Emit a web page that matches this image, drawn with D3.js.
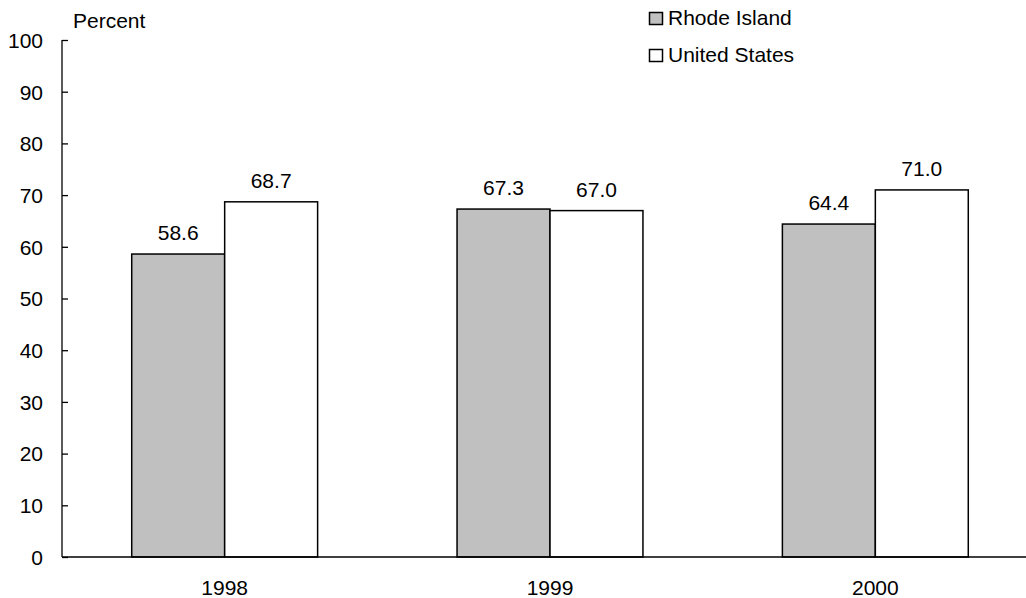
<!DOCTYPE html>
<html><head><meta charset="utf-8">
<script src="https://cdn.jsdelivr.net/npm/d3@7"></script>
<style>body{margin:0;background:#fff}svg{display:block}text{font-family:"Liberation Sans",Arial,sans-serif;fill:#000}</style>
</head><body>
<script>
const years = ["1998","1999","2000"];
const seriesNames = ["Rhode Island","United States"];
const rhodeIsland = [58.6, 67.3, 64.4];
const unitedStates = [68.7, 67.0, 71.0];
const yTicks = [0,10,20,30,40,50,60,70,80,90,100];
const colors = ["#c0c0c0","#ffffff"];

const W=1026,H=598,FS=21;
const svg=d3.select("body").append("svg").attr("width",W).attr("height",H);
const x=d3.scaleBand().domain(years).range([62,1038]).paddingInner(0.4286).paddingOuter(0.2143);
const xs=d3.scaleBand().domain(seriesNames).range([0,x.bandwidth()]);
const y=d3.scaleLinear().domain([0,100]).range([557,40]);
const series=[rhodeIsland,unitedStates];

// y axis
const ya=svg.append("g").attr("transform","translate(62,0)")
  .call(d3.axisRight(y).tickValues(yTicks).tickSize(6).tickFormat(d3.format("d")));
ya.select(".domain").attr("stroke","#000").attr("stroke-width",1.3).attr("d","M0,40V557");
ya.selectAll(".tick line").attr("stroke","#000").attr("stroke-width",1.3);
ya.selectAll(".tick text").attr("x",-19).attr("text-anchor","end").attr("font-size",FS).attr("dy","0.35em")
  .style("font-family","Liberation Sans, Arial, sans-serif");

// bars
series.forEach((vals,si)=>{
  svg.append("g").selectAll("rect").data(vals).join("rect")
    .attr("x",(d,i)=>x(years[i])+xs(seriesNames[si]))
    .attr("y",d=>y(d)).attr("width",xs.bandwidth()).attr("height",d=>y(0)-y(d))
    .attr("fill",colors[si]).attr("stroke","#000").attr("stroke-width",1.5);
  svg.append("g").selectAll("text").data(vals).join("text")
    .attr("x",(d,i)=>x(years[i])+xs(seriesNames[si])+xs.bandwidth()/2)
    .attr("y",d=>y(d)-14).attr("text-anchor","middle").attr("font-size",FS)
    .text(d=>d.toFixed(1));
});

// x axis
const xa=svg.append("g").attr("transform","translate(0,557)")
  .call(d3.axisBottom(x).tickSize(0));
xa.select(".domain").attr("stroke","#000").attr("stroke-width",1.5).attr("d","M62,0H1026");
xa.selectAll(".tick text").attr("font-size",FS).attr("dy",0).attr("y",38)
  .style("font-family","Liberation Sans, Arial, sans-serif");

// y title
svg.append("text").attr("x",73).attr("y",28).attr("font-size",FS).text("Percent");

// legend
seriesNames.forEach((n,i)=>{
  const ly=12+i*37;
  svg.append("rect").attr("x",649.5).attr("y",ly+0.5).attr("width",13).attr("height",12)
    .attr("fill",colors[i]).attr("stroke","#000").attr("stroke-width",1.5);
  svg.append("text").attr("x",668).attr("y",ly+13).attr("font-size",FS).text(n);
});
</script>
</body></html>
